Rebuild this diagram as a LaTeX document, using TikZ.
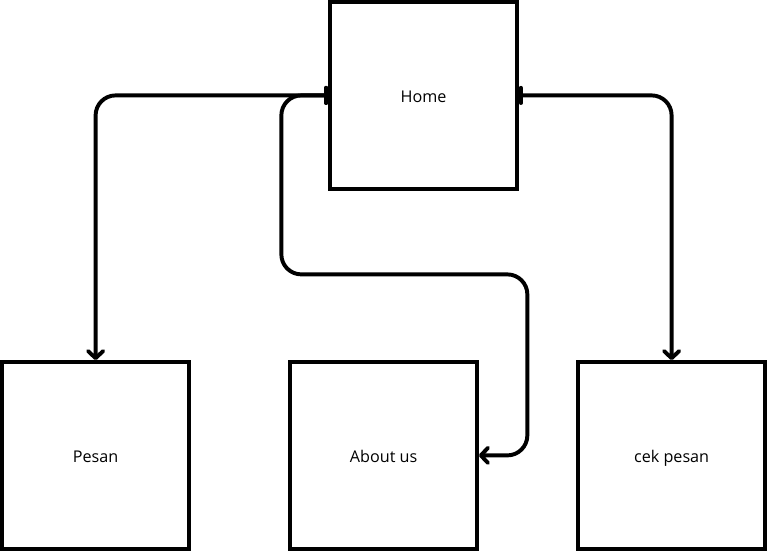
\documentclass[tikz,border=0pt]{standalone}
\usepackage{fontspec}
\setmainfont{Open Sans}
\usepackage{tikz}
\usetikzlibrary{arrows.meta,positioning,calc}

\begin{document}
\begin{tikzpicture}[
    page/.style={rectangle, draw, line width=2.5pt, minimum width=4.675cm, minimum height=4.675cm, text height=2ex, text depth=0.1ex, font=\fontsize{11.5}{14}\selectfont},
    link/.style={line width=2.8pt, rounded corners=0.5cm, line cap=round,
        {Bar[width=0.38cm, line width=2.8pt, round]}-{Straight Barb[length=0.18cm, width=0.38cm, line width=2.8pt, round]}}]

    \useasboundingbox (0,0) rectangle (19.2,13.825);

    % Home
    \node[page] (home) at (10.59,11.44) {Home};

    % Pages below
    \node[page] (pesan) at (2.39,2.44) {Pesan};
    \node[page] (about) at (9.59,2.44) {About us};
    \node[page] (cek) at (16.79,2.44) {cek pesan};

    % Arrows
    \draw[link] (home.west) -| (pesan.north);
    \draw[link] (home.west) -- ++(-1.175,0) -- ++(0,-4.475) -- ++(6.15,0) |- (about.east);
    \draw[link] (home.east) -| (cek.north);

\end{tikzpicture}
\end{document}
